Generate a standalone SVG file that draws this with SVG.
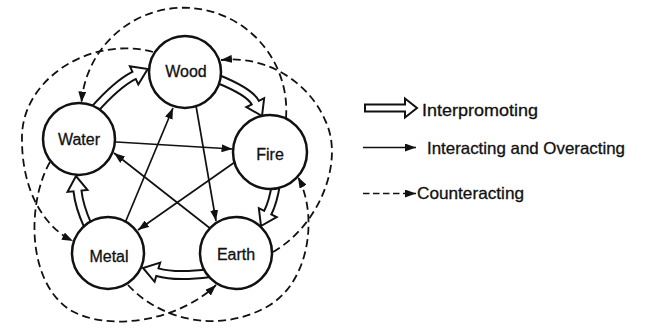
<svg xmlns="http://www.w3.org/2000/svg" width="665" height="333" viewBox="0 0 665 333">
<defs>
<style>
.node circle{fill:#fff;stroke:#111;stroke-width:2.5}
.node text,.legend text{font-family:"Liberation Sans",Arial,sans-serif;fill:#111;stroke:#111;stroke-width:0.3}
.node text{font-size:16px;text-anchor:middle}
.legend text{font-size:16.5px}
.solid{fill:none;stroke:#111;stroke-width:1.7;marker-end:url(#ah)}
.dash{fill:none;stroke:#111;stroke-width:1.8;stroke-dasharray:8 4.5;marker-end:url(#ah)}
.hs{fill:none;stroke:#111;stroke-width:10}
.hi{fill:none;stroke:#fff;stroke-width:6}
.hh{fill:#fff;stroke:#111;stroke-width:2;stroke-linejoin:miter}
</style>
<marker id="ah" markerUnits="userSpaceOnUse" markerWidth="11" markerHeight="8" refX="11" refY="4" orient="auto">
<path d="M0,0 L11,4 L0,8 Z" fill="#111"/>
</marker>
</defs>
<rect width="665" height="333" fill="#fff"/>
<g id="connectors">
<!-- counteracting (dashed) -->
<path class="dash" d="M286,118 A102,102 0 0 0 81.5,102.5"/>
<path class="dash" d="M153,52 C90,35 20,80 22,140 C22,185 40,225 73,241"/>
<path class="dash" d="M273,252 C320,225 345,160 325,120 C310,85 270,55 221,60"/>
<path class="dash" d="M128,285 C160,320 220,335 270,305 C310,280 318,215 298,177"/>
<path class="dash" d="M50,162 C28,200 25,280 70,310 C110,333 180,320 216,285"/>
<!-- interacting / overacting (solid) -->
<path class="solid" d="M100,141 L232.5,149"/>
<path class="solid" d="M245,155 L138,230"/>
<path class="solid" d="M120,235 L173,108"/>
<path class="solid" d="M195,100 L216,221"/>
<path class="solid" d="M225,240 L114,153"/>
<!-- interpromoting (hollow) -->
<path class="hs" d="M94,110 Q117,84 134.1,75.4"/>
<path class="hs" d="M218,79 Q249.85,91.97 255.25,102.65"/>
<path class="hs" d="M276,184 Q273.15,201.97 267.75,212.65"/>
<path class="hs" d="M210,273 Q176,277.6 157.4,272.2"/>
<path class="hs" d="M88,226 Q79,206 77.5,190.9"/>
<polygon class="hh" points="138.3,84.5 147.7,69.1 129.9,66.3"/>
<polygon class="hh" points="264.15,98.15 262,116 246.35,107.15"/>
<polygon class="hh" points="276.65,217.15 261,226 258.85,208.15"/>
<polygon class="hh" points="160.2,262.6 143,268 154.6,281.8"/>
<polygon class="hh" points="87.45,189.9 76,176 67.55,191.9"/>
<path class="hi" d="M94,110 Q117,84 134.1,75.4 L135.9,74.6"/>
<path class="hi" d="M218,79 Q249.85,91.97 255.25,102.65 L256.15,104.43"/>
<path class="hi" d="M276,184 Q273.15,201.97 267.75,212.65 L266.85,214.43"/>
<path class="hi" d="M210,273 Q176,277.6 157.4,272.2 L155.5,271.6"/>
<path class="hi" d="M88,226 Q79,206 77.5,190.9 L77.3,188.9"/>
</g>
<g id="wood" class="node"><circle cx="185" cy="72" r="36"/><text x="186" y="76.5">Wood</text></g>
<g id="water" class="node"><circle cx="79" cy="139" r="36"/><text x="79" y="144.5">Water</text></g>
<g id="fire" class="node"><circle cx="270" cy="152" r="37"/><text x="270" y="159.5">Fire</text></g>
<g id="metal" class="node"><circle cx="108" cy="253" r="36"/><text x="109" y="262">Metal</text></g>
<g id="earth" class="node"><circle cx="236" cy="253" r="36"/><text x="236" y="259.5">Earth</text></g>
<g id="legend" class="legend">
<polygon points="365,104.5 405,104.5 405,98.5 417,108 405,117.5 405,111.5 365,111.5" fill="#fff" stroke="#111" stroke-width="2"/>
<text x="422" y="115.5" textLength="116" lengthAdjust="spacingAndGlyphs">Interpromoting</text>
<path class="solid" d="M363,147.5 L416,147.5"/>
<text x="427" y="153.5" textLength="198" lengthAdjust="spacingAndGlyphs">Interacting and Overacting</text>
<path class="solid" d="M363,193.5 L416,193.5" style="stroke-dasharray:6.5 3.5"/>
<text x="417" y="198.5" textLength="107" lengthAdjust="spacingAndGlyphs">Counteracting</text>
</g>
</svg>
